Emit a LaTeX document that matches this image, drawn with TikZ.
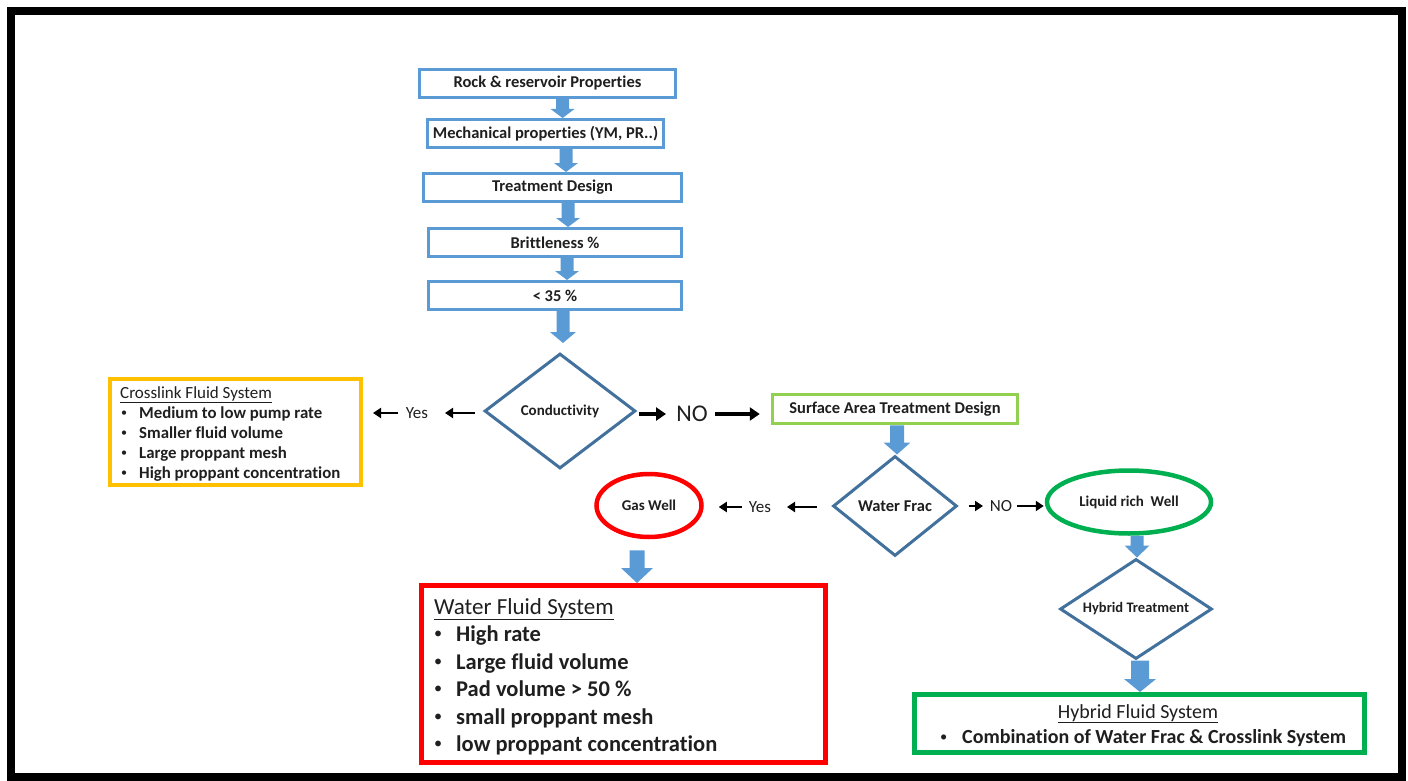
\documentclass[tikz,border=0pt]{standalone}
\usepackage{fontspec}
\setmainfont{Carlito}[Ligatures=NoCommon]
\usetikzlibrary{shapes.geometric,arrows.meta,calc}
\definecolor{ablue}{HTML}{5B9BD5}
\definecolor{dblue}{HTML}{41719C}
\definecolor{borange}{HTML}{FFC000}
\definecolor{lgreen}{HTML}{92D050}
\definecolor{bgreen}{HTML}{00B050}
\definecolor{bred}{HTML}{FF0000}
\definecolor{txt}{HTML}{1F1F1F}
\newcommand\fsz[1]{\fontsize{#1}{#1}\selectfont}
\newcommand\bul{\raisebox{0.1em}{\scalebox{0.72}{\mdseries\textbullet}}}
\newcommand\flowarrow[5]{%
  \path[fill=ablue] let \p1=(#1), \p2=(#2) in
    (\x1-#3pt,\y1) -- (\x1+#3pt,\y1) -- (\x1+#3pt,\y2+#5pt) -- (\x1+#4pt,\y2+#5pt)
    -- (\x1,\y2) -- (\x1-#4pt,\y2+#5pt) -- (\x1-#3pt,\y2+#5pt) -- cycle;}
\begin{document}
\begin{tikzpicture}[x=1pt,y=-1pt,
  topbox/.style={draw=ablue, line width=3, fill=white, inner sep=0, minimum height=28, text=txt, font=\fsz{16.5}\bfseries},
  dia/.style={diamond, draw=dblue, line width=3, fill=white, inner sep=0, text=txt},
  oval/.style={ellipse, line width=4.5, fill=white, inner sep=0, text=txt, font=\fsz{15}\bfseries},
  lbl/.style={inner sep=0, text=txt},
  line/.style={anchor=base west, inner sep=0, text=txt},
  blk/.style={line width=2.5, -{Triangle[length=8,width=10]}},
  blkb/.style={line width=3.5, -{Triangle[length=10,width=13]}}]
\useasboundingbox (0,0) rectangle (1408,781);
\draw[line width=8] (11,11) rectangle (1402,777);

% top chain
\node[topbox, minimum width=256] (r1) at (547.5,83.5) {Rock \& reservoir Properties};
\node[topbox, minimum width=236] (r2) at (545.5,133.5) {Mechanical properties (YM, PR..)};
\node[topbox, minimum width=258] (r3) at (552.5,187.5) {Treatment Design};
\node[topbox, minimum width=253] (r4) at (555,242.5) {Brittleness \%};
\node[topbox, minimum width=253] (r5) at (555,295.5) {< 35 \%};

% decisions
\node[dia, minimum width=151, minimum height=115, shape aspect=1.31, font=\fsz{15}\bfseries] (cond) at (560,411) {Conductivity};
\node[dia, minimum width=124, minimum height=100, shape aspect=1.24, font=\fsz{16.5}\bfseries] (wf) at (895,506) {Water Frac};
\node[dia, minimum width=152, minimum height=100, shape aspect=1.52, font=\fsz{14.5}\bfseries] (hyb) at (1136,609) {Hybrid Treatment};

% ovals
\node[oval, draw=bred, minimum width=105, minimum height=63] (gas) at (649,505.5) {Gas Well};
\node[oval, draw=bgreen, minimum width=164, minimum height=63] (liquid) at (1129,502) {Liquid rich\ \ Well};

% boxes
\node[draw=lgreen, line width=3.5, fill=white, inner sep=0, minimum width=245, minimum height=29, text=txt, font=\fsz{16.5}\bfseries] (surf) at (895,409) {Surface Area Treatment Design};
\node[draw=borange, line width=4, fill=white, inner sep=0, minimum width=251, minimum height=106] (cross) at (235.5,432) {};
\node[draw=bred, line width=5, fill=white, inner sep=0, minimum width=404, minimum height=177] (wfs) at (623.5,674) {};
\node[draw=bgreen, line width=5, fill=white, inner sep=0, minimum width=450, minimum height=58] (hfs) at (1139.5,723.5) {};

% crosslink text
\node[line, font=\fsz{17}] (ch) at (120,398) {\underline{Crosslink Fluid System}};
\node[line, font=\fsz{16.8}\bfseries] (c1) at (121,418) {\makebox[18pt][l]{\bul}Medium to low pump rate};
\node[line, font=\fsz{16.8}\bfseries] (c2) at (121,438) {\makebox[18pt][l]{\bul}Smaller fluid volume};
\node[line, font=\fsz{16.8}\bfseries] (c3) at (121,458) {\makebox[18pt][l]{\bul}Large proppant mesh};
\node[line, font=\fsz{16.8}\bfseries] (c4) at (121,478) {\makebox[18pt][l]{\bul}High proppant concentration};

% water fluid text
\node[line, font=\fsz{23}] (wh) at (434,614) {\underline{Water Fluid System}};
\node[line, font=\fsz{22.5}\bfseries] (w1) at (434,641) {\makebox[22pt][l]{\bul}High rate};
\node[line, font=\fsz{22.5}\bfseries] (w2) at (434,669) {\makebox[22pt][l]{\bul}Large fluid volume};
\node[line, font=\fsz{22.5}\bfseries] (w3) at (434,696) {\makebox[22pt][l]{\bul}Pad volume > 50 \%};
\node[line, font=\fsz{22.5}\bfseries] (w4) at (434,724) {\makebox[22pt][l]{\bul}small proppant mesh};
\node[line, font=\fsz{22.5}\bfseries] (w5) at (434,751) {\makebox[22pt][l]{\bul}low proppant concentration};

% hybrid text
\node[inner sep=0, anchor=base, text=txt, font=\fsz{20}] (hh) at (1138,718) {\underline{Hybrid Fluid System}};
\node[line, font=\fsz{20}\bfseries] (h1) at (940,743) {\makebox[22pt][l]{\bul}Combination of Water Frac \& Crosslink System};

% labels
\node[lbl, font=\fsz{17}] (yes1) at (417,413) {Yes};
\node[lbl, font=\fsz{24}] (no1) at (692,414) {NO};
\node[lbl, font=\fsz{17}] (yes2) at (760,507) {Yes};
\node[lbl, font=\fsz{17}] (no2) at (1001,506) {NO};

% black arrows
\draw[blk, shorten <=8pt] (cond.west |- yes1.center) -- ([xshift=28]yes1.center);
\draw[blk, shorten >=10pt] ([xshift=-19]yes1.center) -- (cross.east |- yes1.center);
\draw[blkb, shorten <=2pt] (cond.east |- no1.center) -- ([xshift=-26]no1.center);
\draw[blkb, shorten >=11pt] ([xshift=23]no1.center) -- (surf.west |- no1.center);
\draw[blk, shorten <=15pt] (wf.west |- yes2.center) -- ([xshift=27]yes2.center);
\draw[blk, shorten >=15pt] ([xshift=-18]yes2.center) -- (gas.east |- yes2.center);
\draw[blk, shorten <=10pt] (wf.east |- no2.center) -- ([xshift=-18]no2.center);
\draw[blk, shorten >=1pt] ([xshift=16]no2.center) -- (liquid.west |- no2.center);

% block arrows
\flowarrow{[xshift=15]r1.south}{r2.north}{6.5}{12}{9}
\flowarrow{[xshift=20.5]r2.south}{r3.north}{6.5}{12}{9}
\flowarrow{[xshift=15.5]r3.south}{r4.north}{6.5}{12}{9}
\flowarrow{[xshift=12]r4.south}{r5.north}{6.5}{12}{9}
\flowarrow{[xshift=8]r5.south}{[yshift=9]cond.north}{6.5}{13}{11}
\flowarrow{[xshift=2]surf.south}{wf.north}{7}{13.5}{12}
\flowarrow{[xshift=-12,yshift=-11]gas.south}{wfs.north}{7.5}{16}{15}
\flowarrow{[xshift=8]liquid.south}{hyb.north}{6.5}{12.5}{12}
\flowarrow{[xshift=4]hyb.south}{hfs.north}{9}{16}{13}
\end{tikzpicture}
\end{document}
